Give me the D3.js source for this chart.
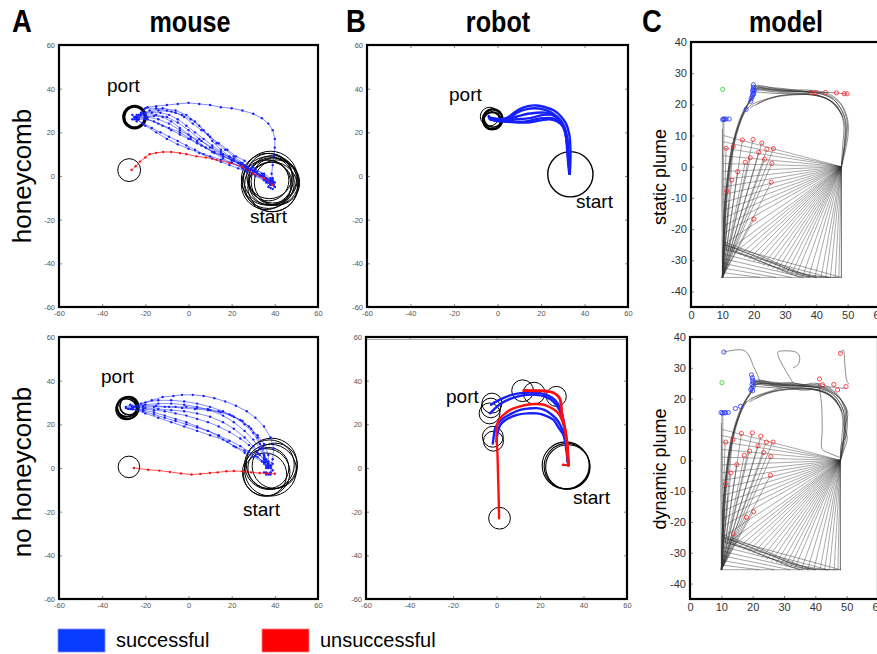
<!DOCTYPE html>
<html><head><meta charset="utf-8">
<script src="https://cdn.jsdelivr.net/npm/d3@7"></script>
<style>body{margin:0;background:#fff}svg{display:block}text{font-family:"Liberation Sans",Arial,Helvetica,sans-serif}</style>
</head><body><svg id="c" width="877" height="654"></svg>
<script>
// ---------------- DATA ----------------
const panelTitles = ["mouse", "robot", "model"];
const panelLetters = ["A", "B", "C"];
const rowLabels = ["honeycomb", "no honeycomb"];
const modelRowLabels = ["static plume", "dynamic plume"];
const legendLabels = ["successful", "unsuccessful"];
const abTicks = [-60, -40, -20, 0, 20, 40, 60];
const cXTicks = [0, 10, 20, 30, 40, 50, 60];
const cYTicks = [-40, -30, -20, -10, 0, 10, 20, 30, 40];

// Mouse, honeycomb: circles [cx, cy, r]
const mouseHcPort = [[-25, 27, 5]];
const mouseHcFailTarget = [[-27.5, 2.7, 5.3]];
const mouseHcStart = [[38, -1, 12.5], [37, -3, 12], [39, -1.5, 11], [36, -4, 11.5], [38.5, -4, 12.5], [40, -2.5, 11],
  [37.5, 0, 10.5], [38, -3.5, 10], [39, -5, 11.5], [36.5, -1.5, 12], [41, -3, 10.5], [37, -2, 9.5]];
const mouseHcSuccess = [
  [[-24,27],[-22,29],[-19,31.5],[-15,32],[-10,32.5],[-5,33],[0,33.5],[5,33],[10,32.5],[15,31.5],[20,31],[25,30],[30,28.5],[34,26.5],[37,24],[39,21],[40,17],[40,13],[39.5,9],[39,5],[38.5,1],[39,-2]],
  [[-24,27],[-21,28.5],[-17,29],[-13,29],[-9,28],[-5,26],[-1,23],[3,20],[7,17],[11,14],[15,11],[19,8.5],[23,6],[27,4],[31,2],[34,0],[37,-2],[39,-3]],
  [[-24,26],[-20,26],[-16,25],[-12,23],[-8,21],[-4,19],[0,17],[4,15],[8,13],[12,11],[16,9],[20,7],[24,5],[28,3],[32,1],[36,-1],[39,-4]],
  [[-24,27],[-20,31],[-15,31],[-10,30],[-6,29],[-2,27],[2,24],[6,21],[10,18],[14,15],[18,12],[22,9],[26,7],[30,4],[34,1],[38,-2]],
  [[-24,27],[-20,27],[-16,27.5],[-12,27],[-8,25],[-4,22],[0,19],[4,16],[8,13],[12,10.5],[16,8],[20,6],[25,3.5],[30,1],[35,-1.5],[39,-4]],
  [[-24,26],[-21,24],[-17,22],[-13,20],[-9,18],[-5,16],[-1,14],[3,12],[7,10],[11,8],[15,6.5],[19,5],[23,3.5],[27,2],[31,0],[35,-2],[38,-4]],
  [[-24,27],[-20,29],[-14,30],[-8,29.5],[-3,28],[1,26],[5,23],[9,19],[13,15],[17,12],[21,9],[25,6],[29,3],[33,0],[37,-3],[40,-5]],
  [[-24,27],[-19,26],[-14,24],[-9,22],[-4,20],[1,17],[6,14],[11,11],[16,9],[21,7],[26,4.5],[31,2],[36,-1],[39,-3]],
  [[-23,28],[-18,30],[-12,31],[-6,30],[-1,28],[3,25],[7,21],[11,16],[15,12],[19,9],[24,6],[29,3],[34,0],[38,-3]],
  [[-24,26],[-20,23],[-15,20],[-10,17],[-5,14.5],[0,12.5],[5,10.5],[10,9],[15,7.5],[20,6],[25,4],[30,2],[35,-0.5],[39,-3]],
  [[-24,27],[-20,28],[-15,28],[-10,27],[-5,24.5],[0,21],[5,17],[10,13],[15,10],[20,7.5],[25,5],[30,2.5],[35,0],[38.5,-2]],
  [[-24,27],[-19,27],[-14,26],[-9,24],[-4,21],[1,18],[6,16],[11,13],[16,10],[21,8],[26,5],[31,3],[35,1],[38,-1],[39.5,-4]],
  [[-26,26],[-24,28],[-25,27],[-23,26],[-22,28],[-24,25],[-26,28],[-25,26]],
  [[36,-2],[38,-4],[40,-5],[39,-6],[37,-5],[38,-3],[40,-3],[39,-1],[36,-3],[38,-5.5]]
];
const mouseHcFail = [
  [[39,-4],[35,-1],[30,1],[25,4.3],[19,6],[13,7.4],[8,8.5],[3.7,9],[-1,10],[-4,10.5],[-8,11],[-11.7,11],[-15,10.6],[-18,10],[-20,8.5],[-22.5,6.6],[-24.5,4.5],[-26.4,2.8]]
];

// Mouse, no honeycomb
const mouseNoPort = [[-28.5, 28, 4.6], [-28, 27.5, 5], [-27.5, 28.5, 4.3], [-28.8, 27, 4.8]];
const mouseNoFailTarget = [[-27.6, 0.5, 5]];
const mouseNoStart = [[37.5, 1.5, 11.5], [36, -2, 11], [38.5, 2, 11.8], [40, 1, 10.5], [35.5, -3, 10], [38, -1, 12], [37, 0, 9.5]];
const mouseNoSuccess = [
  [[-26,28],[-22,29.5],[-17,31],[-12,32.5],[-7,33],[-3,33.5],[2,33.5],[7,33],[12,32],[17,30.5],[22,28.5],[27,26],[31,23],[35,19],[38,14],[39.5,9],[39,4],[38,1]],
  [[-26,28],[-21,28],[-16,28],[-11,28],[-6,28],[-1,28],[4,27.5],[9,27],[14,26],[19,24.5],[24,22],[28,19],[32,15],[35,11],[37,6],[37,2]],
  [[-26,27],[-21,27],[-16,26.5],[-11,26],[-6,25],[-1,24],[4,22.5],[9,21],[14,19],[19,16.5],[24,13.5],[28,10.5],[32,7],[35,4],[37,1]],
  [[-26,28],[-20,29],[-14,29.5],[-8,29.5],[-2,29],[4,28],[10,26.5],[16,24],[21,21],[26,17],[30,13],[33,9],[35,5],[36,1]],
  [[-26,27],[-21,26],[-16,24.5],[-11,23],[-6,21.5],[-1,20],[4,18.5],[9,17],[14,15],[19,12.5],[24,10],[28,7.5],[32,5],[35,2.5],[37,0]],
  [[-26,28],[-21,28.5],[-15,28.5],[-9,28],[-3,27.5],[3,27],[9,26.5],[15,25.5],[20,24],[25,21.5],[29,18],[32,14],[34.5,9],[36,4],[37,0]],
  [[-26,27],[-21,26.5],[-16,25.5],[-11,24],[-6,22.5],[-1,21],[4,19],[9,17],[14,14.5],[18,12],[22,9.5],[26,7],[30,5],[34,3],[37,1]],
  [[-26,28],[-20,30],[-14,31],[-8,31],[-2,30.5],[4,29.5],[10,28],[16,26],[21,23.5],[26,20],[30,16],[33,11],[35,6],[37,2]],
  [[-26,28],[-20,27.5],[-14,27],[-8,26.5],[-2,26],[4,25],[10,23.5],[16,21],[21,18],[26,14],[30,10],[33,6],[36,3],[38,0]],
  [[-26,27],[-20,25],[-14,23],[-8,21],[-2,19],[4,17],[10,15],[16,13],[21,10],[26,8],[31,5.5],[35,3],[38,1]],
  [[-29,28],[-27,29],[-28,27],[-26,28.5],[-29,27.5],[-27,27],[-25,28]],
  [[35,-2],[36,-3],[38,-3],[39,-1],[38,1],[36,0],[35,2],[37,3],[39,2],[38,-2],[36,-2],[37,-3]]
];
const mouseNoFail = [
  [[40,-2.6],[36.5,-2.5],[33,-2.3],[29,-2],[25,-1.5],[21,-1.4],[17.6,-1.5],[13.5,-2],[9.9,-2.3],[5.5,-2.7],[1.4,-3],[-3.5,-2.5],[-8.6,-1.8],[-13.5,-1.2],[-18.7,-0.8],[-25.3,0]]
];

// Robot, honeycomb
const robotHcTargets = [[-3.6, 27.2, 4.3], [-2.2, 26, 4.5], [-2.5, 25.3, 4], [-2, 26.5, 4.2]];
const robotHcTargetWidths = [1, 2.2, 2.2, 1.6];
const robotHcStart = [[33.5, 0.8, 10.4]];
const robotHcSuccess = [
  [[-4,27],[-2,26.5],[1,26],[4,26.5],[7,28.5],[10,30.5],[14,32],[18,32.3],[22,31.5],[26,30],[29,27.5],[31.5,24],[33,19],[33.5,13],[33.5,6],[33.2,1]],
  [[-3,26],[0,25.5],[3,25.5],[6,27],[9,29],[13,30.5],[17,31],[21,30.5],[25,29],[28,26.5],[30.5,23],[32,18],[32.5,12],[33,6],[33.2,1]],
  [[-3,26],[1,25],[5,24.8],[9,24.7],[13,25],[17,25.8],[21,26.5],[25,26.5],[28,25],[30.5,22],[32,17],[32.5,11],[33,5],[33.2,1]],
  [[-3,26],[1,25.2],[5,25.5],[9,26],[13,26.3],[17,27],[21,28],[25,28],[28,26],[30,23],[31.5,18],[32,12],[32.5,6],[33,1]],
  [[-3,26.5],[1,25.8],[5,25],[10,24.5],[15,24.6],[20,25.5],[24,26],[27.5,25],[30.4,22.3],[31.5,18],[32,14.6],[32.5,8],[33,2.3]],
  [[-2,26],[2,26],[6,26.5],[10,27.5],[14,28.5],[18,29],[22,29],[26,28],[29,25.5],[31,21],[32,15],[32.5,9],[33.2,1]],
  [[-4,27.5],[-3.5,26],[-1,25.5],[1,25.3]]
];

// Robot, no honeycomb
const robotNoTargets = [[-2.1, 29.7, 4.6], [-2.6, 27.5, 4.5], [-3.2, 25, 4.8], [-1.7, 14.3, 4.8], [-1.4, 12.3, 4.6],
  [12, 35.4, 5], [17.3, 34.3, 5], [27.5, 32.8, 4.6], [1.4, -23, 5]];
const robotNoStart = [[32.4, 0.8, 10.5], [31.8, 1.2, 10.8], [32.8, 0.5, 10.2]];
const robotNoSuccess = [
  [[-2.5,29],[0,30.5],[3,32],[7,33.5],[11,34.3],[15,34.5],[20,34.3],[24,33],[27,31],[29.3,27.4],[30.8,22],[31.8,15],[32.6,8],[33,1.2]],
  [[-3,25],[-1,27],[2,29.5],[6,31.5],[10,32.8],[14,33.5],[18,33.5],[22,32.8],[26,30.5],[29,26.5],[30.8,20],[32,12],[33,1.2]],
  [[-1.7,11.2],[-1.2,15],[-0.6,18.2],[1,20.7],[3.2,22.8],[7,25],[10.9,26.6],[14.5,27.2],[18.6,27.4],[22,26.6],[24.7,25],[27.5,22.5],[29.3,19.7],[31,15],[32.4,10.5],[33,1.2]],
  [[0,12],[0.5,16],[1.7,19.7],[4.5,22.2],[9.4,24.3],[14,25],[18.6,25],[22.5,24],[26.2,22],[28.5,18.5],[30.8,15],[32,9],[32.7,2.8]]
];
const robotNoFail = [
  [[1.2,-23],[0.9,-10],[0.5,5],[0.2,19.7],[1.7,22.8],[3.8,24.8],[6.3,26.6],[10,28],[15.5,29.2],[19,29.3],[23,28.6],[26,27],[28.5,25],[30.3,21.5],[31.6,18],[32.5,10],[33,1.2]],
  [[12.4,35.4],[16,35.3],[20,35.2],[23,35],[26,34.5],[28.5,32.8],[29.6,30.5],[30,26],[30.8,21],[32,15],[32.7,10],[33.1,1.2]],
  [[13,35.6],[18,35.5],[23.5,35.3],[27,34],[29.2,31.5],[29.5,29],[30.2,24],[31.5,17],[32.5,8],[33,1.5]],
  [[30.5,1.5],[32,1.3]]
];

// Model (both plumes)
const modelStart = [48, 0];
const modelCorner = [10, -35.5];
const modelFanEnds = [[10.3,10],[10.3,8],[10.3,6],[10.3,3.5],[10.3,1],[10.3,-1.5],[10.3,-4],[10.3,-6.5],[10.3,-9],[10.3,-11.5],
  [10.3,-14],[10.3,-16.5],[10.3,-19],[10.3,-21.5],[11,-24.5],[12.5,-26.5],[14,-27.5],[15.5,-28.3],
  [17,-29],[18.5,-29.6],[20,-30.3],[21.5,-30.9],[23,-31.6],[24.5,-32.2],[26,-32.8],[27.5,-33.3],[29,-33.8],
  [30.5,-34.2],[32,-34.6],[33.5,-35],[35.5,-35.5],[37.5,-35.5],[39.5,-35.5],[41.5,-35.5],[43,-35.5],[44.5,-35.5],
  [46,-35.5],[47.2,-35.5],[48,-35.5]];
const modelCornerEnds = [[11.2,5.9],[13.5,6.5],[16.4,8.6],[19.8,8.7],[22.6,7.6],[21.6,4.6],[24.2,5.6],[26.3,5.8],[18.9,2.9],
  [17.3,1.4],[23.5,2.4],[25.8,1.1],[14.9,-1.6],[13,-4.3],[11.4,-7.8],[25.6,-5],[20.1,-16.8],[12,-12],[11,-18],[10.6,-24]];
const modelDynCornerEnds = [[18,-18.5],[13.8,-23.9]];
const modelWallPaths = [
  [[10.3,-35.5],[10.2,-20],[10.3,-5],[10.5,10],[10.5,15.3]],
  [[10,-35],[9.9,-20],[9.8,-10],[10,5],[10.2,15]],
  [[10.5,-34],[10.4,-22],[10.2,-12],[10.1,0],[10,12]],
  [[10.3,-25],[48,-35.5]],[[10.3,-26.5],[44,-35.5]],[[10.3,-28],[40,-35.5]],[[10.3,-29.5],[36,-35.5]],
  [[10.3,-31],[32,-35.5]],[[10.3,-32.5],[27,-35.5]],[[10.3,-34],[22,-35.5]],
  [[10,-35.5],[48,-35.5]],
  [[48,0],[48,-35.5]]
];
const modelCurves = [
  [[10.2,-25],[16,-27],[23,-29.5],[30,-32.5],[36,-35],[38,-35.5]],
  [[10.2,-26],[17,-28.5],[25,-31.5],[32,-34.5],[35,-35.5]],
  [[10.2,-24],[15,-25.8],[22,-28.5],[30,-32],[37,-34.8],[40,-35.5]],
  [[10.3,-24.5],[18,-27.8],[26,-31],[34,-33.8],[42,-35.3],[47,-35.5]],
  [[10.4,-25.5],[19,-29],[27,-32.3],[35,-34.8],[44,-35.5]],
  [[19.5,22],[17,18],[15,13],[13.5,8],[12.3,2],[11.5,-5],[10.8,-12],[10.4,-20],[10.2,-28],[10,-35.5]],
  [[19.8,23],[17.5,19],[15.5,14],[14,9],[12.8,3],[12,-3],[11.3,-10],[10.8,-18],[10.4,-26],[10,-35.5]],
  [[19.2,21.5],[16.5,17.5],[14.5,12],[13,6],[12,0],[11.2,-7],[10.6,-15],[10.3,-24],[10.1,-32]],
  [[20,22.5],[18,19.5],[16,15],[14.5,10],[13.2,4],[12.4,-2],[11.6,-9],[11,-17],[10.6,-25],[10.3,-33]],
  [[18,19],[16,15],[14.2,10],[13,4],[12,-2],[11,-10],[10.5,-18]],
  [[19.6,22.5],[17.2,18.5],[15.2,13.5],[13.8,8.5],[12.6,2.5],[11.8,-4],[11.1,-11],[10.6,-19],[10.3,-27],[10.1,-35]],
  [[48,0],[48.6,4],[49.4,9],[49.6,13],[49,16],[47.6,19],[45.5,21.5],[42,23.2],[37,24],[31,24.2],[26,24.6],[22.5,25.2],[20.3,25]],
  [[48,0.5],[48.9,5],[49.7,10],[49.9,14],[49.2,17],[47.8,20],[45,22.3],[41,23.8],[35,24.3],[29,24.4],[24.5,25],[21.5,25.6],[20,25.5]],
  [[48,0],[48.4,3],[49,8],[49.2,12],[48.6,15.5],[47,18.5],[44.5,21],[40.5,22.8],[35,23.6],[29,23.8],[25,24.2],[22,24.6],[20,24.5]],
  [[48,-0.3],[49,4],[50,9],[50.2,13.5],[49.5,17],[48,20],[45.5,22.5],[42,24],[37,24.6],[31,24.7],[26,25.2],[22.5,26],[20,26]],
  [[48,0],[48.2,4],[48.6,9],[48.8,12.5],[48.2,16],[46.5,19],[43.8,21.5],[39,23],[33,23.5],[27,23.5],[23,23.8],[20.5,24]],
  [[48,0.2],[48.8,4.5],[49.2,9.5],[49.4,13],[48.8,16.5],[47.3,19.5],[44.8,22],[41,23.5],[36,24.1],[30,24.1],[25,24.4],[21.5,24.9],[19.8,23.5]],
  [[48,17],[46,20],[43,22],[39,23.2],[34,23.3],[29,22.9],[25,22],[22,21],[19.5,20],[17.6,18.4]],
  [[48.5,16],[46.5,19.5],[43.5,21.8],[39.5,23],[34,23.1],[28.5,22.6],[24.5,21.6],[21.5,20.3],[19,19]],
  [[47,19],[44,21.5],[40,22.8],[34,23.2],[28,22.7],[24,21.5],[21,20]],
  [[20.5,25.5],[26,25],[32,24.3],[38.3,23.8]],
  [[21,25.8],[30,25],[39.9,23.7],[42.9,23.8],[46.4,23.7],[48.9,23.4],[49.8,23.4]],
  [[20,25],[29,24.6],[38,24],[42.9,23.8]]
];
const modelDynExtra = [
  [[10.8,35.1],[11.5,35.3],[17.5,35.5],[20.5,30],[22.5,25.3]],
  [[32.8,25.3],[28,35],[30,35.5],[34,35],[35,33.5],[34.5,31],[33,30]],
  [[41,24.8],[41.5,22],[42,18],[42.2,10],[42.2,3.6],[44,2.5],[47.7,1]],
  [[48,34.7],[48.9,35.8],[49.5,30],[50,26],[50.6,24.8]],
  [[48,0],[49,3],[50.2,7],[49.5,11],[50.4,15],[49,18.5],[46.5,21.3],[43,23.5],[40,25],[36,24.5],[32,25.3],[27,24.8],[23,25.8],[20.2,25]],
  [[48,0],[48.3,5],[49.8,8],[49,12],[50,16],[48.4,19.5],[45.8,22.5],[42,24.8],[38,24.3],[33,25],[28,24],[24,25],[20.5,24.3]],
  [[47.5,18],[45,21.2],[41,23],[36,22.7],[30,23.6],[25,22.2],[21.5,21],[19.5,19.8]]
];
const modelStaticBlue = [[19.9,26.3],[19.9,25.5],[19.8,24.8],[19.7,24.2],[19.8,23.6],[19.7,23],[19.5,22.4],[19.2,21.8],[19.1,21],
  [17.6,18.4],[10.1,15.1],[10.4,15.3],[10.7,15.2],[11.2,15.3],[12.2,15.3],[20.2,24.5],[20,23.3]];
const modelStaticRed = [[11.2,5.9],[13.5,6.5],[16.4,8.6],[19.8,8.7],[22.6,7.6],[21.6,4.6],[24.2,5.6],[26.3,5.8],[18.9,2.9],
  [17.3,1.4],[23.5,2.4],[25.8,1.1],[14.9,-1.6],[13,-4.3],[11.4,-7.8],[25.6,-5],[20.1,-16.8],
  [38.3,23.8],[39.9,23.7],[42.9,23.8],[46.4,23.7],[48.9,23.4],[49.8,23.4]];
const modelStaticGreen = [[10.1,24.8]];
const modelDynBlue = [[10.8,35.1],[19.6,27.7],[19.9,26.8],[20,26],[20.1,25.3],[19.8,24.6],[20.2,24],[19.7,23.4],[19.4,22.9],
  [20,22.6],[14.5,16.8],[16.1,17.5],[9.9,15.5],[10.4,15.3],[10.9,15.5],[11.4,15.4],[12.2,15.5]];
const modelDynRed = [[11.4,5.9],[13.7,6.7],[16.4,8.7],[19.9,8.9],[22.6,7.8],[21.7,4.7],[24.4,5.9],[26.5,5.9],[19,3],[17.3,1.6],
  [23.5,2.5],[25.8,1.2],[14.9,-1.4],[13,-4.1],[11.3,-7.7],[25.7,-4.9],[20.3,-16.7],[18,-18.5],[13.8,-23.9],
  [41.3,26.4],[42.3,24.5],[45.9,24.6],[47.1,22.8],[49.8,23.9],[48,34.7]];
const modelDynGreen = [[10.2,25.2]];

// ---------------- DRAWING ----------------
const svg = d3.select("#c");
const BLUE = "#1420ff", RED = "#ff1010";
let clipN = 0;

function setupPanel(cfg) {
  const x = d3.scaleLinear().domain(cfg.xd).range([cfg.l, cfg.r]);
  const y = d3.scaleLinear().domain(cfg.yd).range([cfg.b, cfg.t]);
  const id = "clip" + (clipN++);
  svg.append("clipPath").attr("id", id).append("rect")
    .attr("x", cfg.l).attr("y", cfg.t).attr("width", cfg.r - cfg.l).attr("height", cfg.b - cfg.t);
  const ax = svg.append("g");
  const fmt = d => String(d);
  ax.append("g").attr("transform", `translate(0,${cfg.b})`)
    .call(d3.axisBottom(x).tickValues(cfg.xt).tickSizeInner(-cfg.tick).tickSizeOuter(0).tickPadding(cfg.padX).tickFormat(fmt));
  ax.append("g").attr("transform", `translate(${cfg.l},0)`)
    .call(d3.axisLeft(y).tickValues(cfg.yt).tickSizeInner(-cfg.tick).tickSizeOuter(0).tickPadding(cfg.padY).tickFormat(fmt));
  if (cfg.box) {
    ax.append("g").attr("transform", `translate(0,${cfg.t})`)
      .call(d3.axisTop(x).tickValues(cfg.xt).tickSizeInner(-cfg.tick).tickSizeOuter(0).tickFormat(""));
    ax.append("g").attr("transform", `translate(${cfg.r},0)`)
      .call(d3.axisRight(y).tickValues(cfg.yt).tickSizeInner(-cfg.tick).tickSizeOuter(0).tickFormat(""));
  }
  ax.selectAll(".domain").remove();
  ax.selectAll("text").attr("font-size", cfg.fs).attr("fill", cfg.tc)
    .attr("font-family", '"Liberation Sans", Arial, sans-serif');
  ax.selectAll("line").attr("stroke", "#555").attr("stroke-width", 0.7);
  const plot = svg.append("g").attr("clip-path", `url(#${id})`);
  return { x, y, plot, cfg };
}
function frame(p) {
  const c = p.cfg;
  svg.append("rect").attr("x", c.l).attr("y", c.t).attr("width", c.r - c.l).attr("height", c.b - c.t)
    .attr("fill", "none").attr("stroke", "#000").attr("stroke-width", 2.2);
}
function circles(p, list, width, widths) {
  const rs = r => p.x(r) - p.x(0);
  p.plot.append("g").selectAll("circle").data(list).join("circle")
    .attr("cx", d => p.x(d[0])).attr("cy", d => p.y(d[1])).attr("r", d => rs(d[2]))
    .attr("fill", "none").attr("stroke", "#000")
    .attr("stroke-width", (d, i) => widths ? widths[i] : width);
}
function paths(p, list, color, width, opacity, curve) {
  const line = d3.line().x(d => p.x(d[0])).y(d => p.y(d[1])).curve(curve || d3.curveLinear);
  p.plot.append("g").selectAll("path").data(list).join("path")
    .attr("d", line).attr("fill", "none").attr("stroke", color)
    .attr("stroke-width", width).attr("stroke-opacity", opacity)
    .attr("stroke-linejoin", "round").attr("stroke-linecap", "round");
}
function dots(p, list, color, r) {
  const pts = list.flat();
  p.plot.append("g").selectAll("circle").data(pts).join("circle")
    .attr("cx", d => p.x(d[0])).attr("cy", d => p.y(d[1])).attr("r", r).attr("fill", color);
}
function rays(p, from, ends, color, width, opacity) {
  p.plot.append("g").selectAll("line").data(ends).join("line")
    .attr("x1", p.x(from[0])).attr("y1", p.y(from[1]))
    .attr("x2", d => p.x(d[0])).attr("y2", d => p.y(d[1]))
    .attr("stroke", color).attr("stroke-width", width).attr("stroke-opacity", opacity);
}
function markers(p, list, color) {
  p.plot.append("g").selectAll("circle").data(list).join("circle")
    .attr("cx", d => p.x(d[0])).attr("cy", d => p.y(d[1])).attr("r", 2.1)
    .attr("fill", "none").attr("stroke", color).attr("stroke-width", 0.8);
}
function label(txt, x, y, size) {
  svg.append("text").attr("x", x).attr("y", y).attr("font-size", size).attr("fill", "#000").text(txt);
}

const abBase = { xd: [-60, 60], yd: [-60, 60], xt: abTicks, yt: abTicks, tick: 3, padX: 4, padY: 4, fs: 7.5, tc: "#555" };
const cBase = { xd: [0, 60], yd: [-45, 40], xt: cXTicks, yt: cYTicks, tick: 3, padX: 4, padY: 4, fs: 11, tc: "#333" };

// Panel A top
const pA1 = setupPanel(Object.assign({}, abBase, { l: 59, r: 318, t: 45, b: 307 }));
circles(pA1, mouseHcStart, 1);
circles(pA1, mouseHcFailTarget, 1);
circles(pA1, mouseHcPort, 3.2);
paths(pA1, mouseHcSuccess, BLUE, 0.7, 0.75);
dots(pA1, mouseHcSuccess, BLUE, 1.2);
paths(pA1, mouseHcFail, RED, 0.8, 0.9);
dots(pA1, mouseHcFail, RED, 1.2);
frame(pA1);
label("port", 107, 92, 19); label("start", 250, 223, 19);

// Panel A bottom
const pA2 = setupPanel(Object.assign({}, abBase, { l: 59, r: 318, t: 337, b: 599 }));
circles(pA2, mouseNoStart, 1);
circles(pA2, mouseNoFailTarget, 1);
circles(pA2, mouseNoPort, 1.6);
paths(pA2, mouseNoSuccess, BLUE, 0.7, 0.75);
dots(pA2, mouseNoSuccess, BLUE, 1.2);
paths(pA2, mouseNoFail, RED, 0.8, 0.9);
dots(pA2, mouseNoFail, RED, 1.2);
frame(pA2);
label("port", 101, 383, 19); label("start", 243, 516, 19);

// Panel B top
const pB1 = setupPanel(Object.assign({}, abBase, { l: 367, r: 628, t: 45, b: 307, box: true }));
circles(pB1, robotHcStart, 1.4);
circles(pB1, robotHcTargets, 1, robotHcTargetWidths);
paths(pB1, robotHcSuccess, BLUE, 2.4, 1, d3.curveCatmullRom);
frame(pB1);
label("port", 449, 101, 19); label("start", 576, 208, 19);

// Panel B bottom
const pB2 = setupPanel(Object.assign({}, abBase, { l: 366, r: 627, t: 337, b: 599, box: true }));
svg.append("line").attr("x1", 366).attr("x2", 627).attr("y1", 339.5).attr("y2", 339.5).attr("stroke", "#aaa").attr("stroke-width", 1);
circles(pB2, robotNoStart, 1.1);
circles(pB2, robotNoTargets, 1);
paths(pB2, robotNoSuccess, BLUE, 2.4, 1, d3.curveCatmullRom);
paths(pB2, robotNoFail, RED, 2.4, 1, d3.curveCatmullRom);
frame(pB2);
label("port", 446, 403, 19); label("start", 573, 504, 19);

// Panel C
function modelPanel(p, dyn) {
  const G = "#333";
  rays(p, modelStart, modelFanEnds, G, 0.6, 0.7);
  rays(p, modelCorner, modelCornerEnds.concat(dyn ? modelDynCornerEnds : []), G, 0.6, 0.75);
  paths(p, modelWallPaths, G, 0.6, 0.75);
  paths(p, modelCurves, G, 0.65, 0.85, d3.curveCatmullRom);
  if (dyn) paths(p, modelDynExtra, G, 0.65, 0.85, d3.curveCatmullRom);
  markers(p, dyn ? modelDynRed : modelStaticRed, "#ff2020");
  markers(p, dyn ? modelDynBlue : modelStaticBlue, "#2030ff");
  markers(p, dyn ? modelDynGreen : modelStaticGreen, "#20d020");
  frame(p);
}
const pC1 = setupPanel(Object.assign({}, cBase, { l: 691, r: 879, t: 42, b: 307 }));
modelPanel(pC1, false);
const pC2 = setupPanel(Object.assign({}, cBase, { l: 690, r: 878, t: 337, b: 599 }));
modelPanel(pC2, true);

// Titles
const letterX = [12, 346, 642], titleX = [190, 498, 786];
panelLetters.forEach((t, i) => {
  svg.append("text").attr("transform", `translate(${letterX[i]},32) scale(0.86,1)`)
    .attr("font-size", 32).attr("font-weight", "bold").text(t);
});
panelTitles.forEach((t, i) => {
  svg.append("text").attr("transform", `translate(${titleX[i]},32) scale(0.84,1)`)
    .attr("text-anchor", "middle").attr("font-size", 30).attr("font-weight", "bold").text(t);
});
// Row labels
const rowY = [176, 472], modelRowY = [177, 469];
rowLabels.forEach((t, i) => {
  svg.append("text").attr("transform", `translate(31,${rowY[i]}) rotate(-90)`)
    .attr("text-anchor", "middle").attr("font-size", 26).text(t);
});
modelRowLabels.forEach((t, i) => {
  svg.append("text").attr("transform", `translate(666,${modelRowY[i]}) rotate(-90)`)
    .attr("text-anchor", "middle").attr("font-size", 18).text(t);
});
// Legend
const legColors = ["#0a3cff", "#ff0000"], legX = [58, 262];
legendLabels.forEach((t, i) => {
  svg.append("rect").attr("x", legX[i]).attr("y", 629).attr("width", 47).attr("height", 23)
    .attr("fill", legColors[i]).attr("stroke", i ? "#ff8080" : "#8090ff").attr("stroke-width", 0.8);
  svg.append("text").attr("x", legX[i] + 58).attr("y", 647).attr("font-size", 20).text(t);
});
</script></body></html>
